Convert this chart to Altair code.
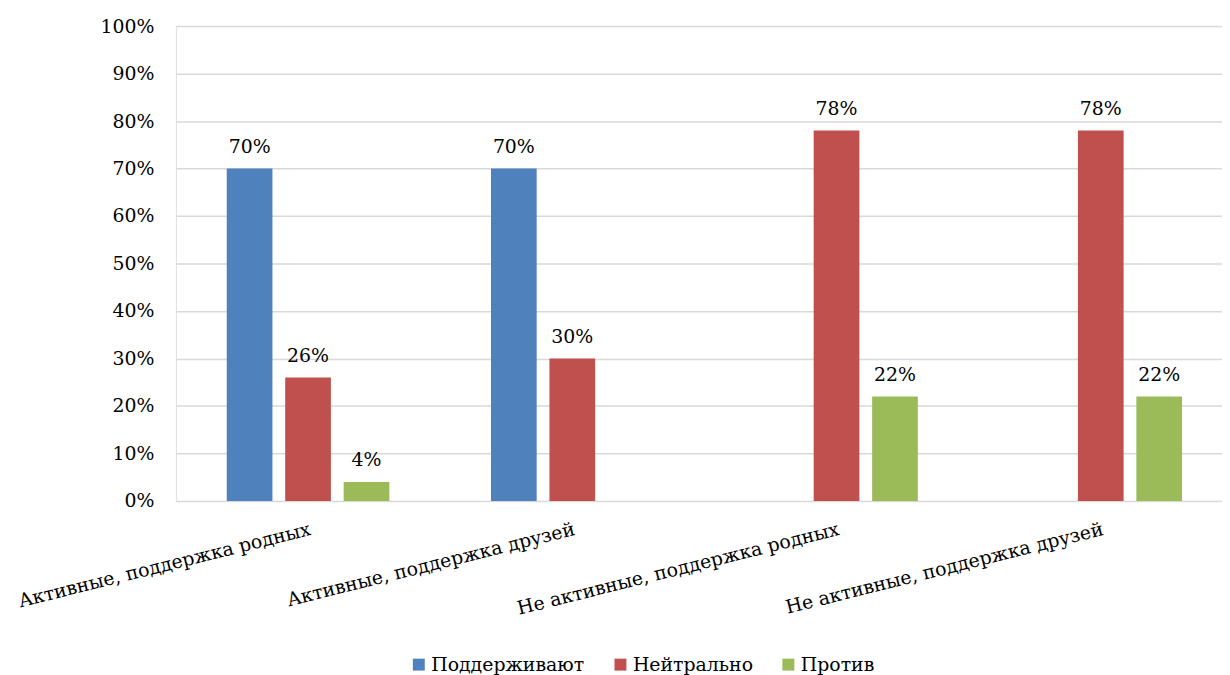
import altair as alt
import pandas as pd

categories = [
    "Активные, поддержка родных",
    "Активные, поддержка друзей",
    "Не активные, поддержка родных",
    "Не активные, поддержка друзей",
]
series = ["Поддерживают", "Нейтрально", "Против"]
support = [0.70, 0.70, 0.0, 0.0]
neutral = [0.26, 0.30, 0.78, 0.78]
against = [0.04, 0.0, 0.22, 0.22]
colors = ["#4F81BD", "#C0504D", "#9BBB59"]

rows = []
for i, c in enumerate(categories):
    for s, vals in zip(series, [support, neutral, against]):
        rows.append({"cat": c, "series": s, "value": vals[i]})
df = pd.DataFrame(rows)

FONT = "DejaVu Serif"
FS = 19

x = alt.X(
    "cat:N",
    sort=categories,
    title=None,
    scale=alt.Scale(paddingInner=0.385, paddingOuter=0.172, align=0.56),
    axis=alt.Axis(
        labelAngle=-14,
        labelAlign="right",
        labelBaseline="top",
        labelFontSize=FS,
        labelFont=FONT,
        labelColor="#000000",
        labelPadding=19,
        ticks=False,
        grid=False,
        gridOpacity=0,
        domain=False,
        domainOpacity=0,
        labelLimit=0,
    ),
)
xo = alt.XOffset(
    "series:N",
    sort=series,
    scale=alt.Scale(domain=series, paddingInner=0.22, paddingOuter=0),
)
y = alt.Y(
    "value:Q",
    title=None,
    scale=alt.Scale(domain=[0, 1]),
    axis=alt.Axis(
        format=".0%",
        values=[i / 10 for i in range(11)],
        labelFontSize=FS,
        labelFont=FONT,
        labelColor="#000000",
        labelPadding=22,
        ticks=False,
        domain=False,
        domainOpacity=0,
        gridColor="#D9D9D9",
        gridWidth=1.5,
    ),
)
color = alt.Color(
    "series:N",
    sort=series,
    scale=alt.Scale(domain=series, range=colors),
    legend=alt.Legend(
        title=None,
        orient="none",
        legendX=235,
        legendY=633,
        direction="horizontal",
        symbolType="square",
        symbolSize=144,
        symbolStrokeWidth=0,
        labelFontSize=FS,
        labelFont=FONT,
        labelColor="#000000",
        labelOffset=3,
        labelLimit=0,
        columnPadding=26,
    ),
)

base = alt.Chart(df).encode(x=x, xOffset=xo, y=y)

bars = base.mark_bar(size=46, strokeWidth=0).encode(color=color)
labels = base.transform_filter("datum.value > 0").mark_text(
    baseline="bottom", dy=-12, fontSize=FS, font=FONT, color="#000000"
).encode(text=alt.Text("value:Q", format=".0%"))

chart = (
    alt.layer(bars, labels)
    .properties(
        width=1053,
        height=478,
        autosize=alt.AutoSizeParams(type="none"),
        padding={"left": 169, "top": 16, "right": 0, "bottom": 173},
    )
    .configure_view(strokeWidth=0, stroke="transparent", strokeOpacity=0)
    .configure_axis(domain=False, ticks=False, domainOpacity=0)
    .configure(background="#FFFFFF", font=FONT)
)

chart.save("out.html", embed_options={"renderer": "svg", "actions": False})
